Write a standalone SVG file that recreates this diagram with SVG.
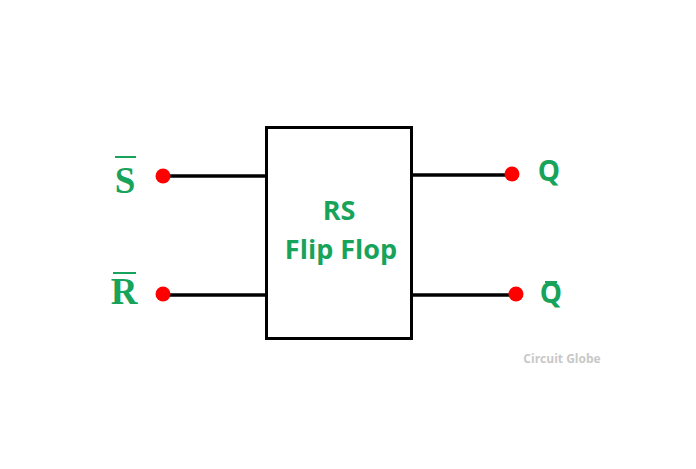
<svg xmlns="http://www.w3.org/2000/svg" width="696" height="469" viewBox="0 0 696 469">
<style>
.wire{stroke:#000;stroke-width:3.5;fill:none}
.dot{fill:#f00}
.lbl{fill:#17a35a;font-weight:bold}
.ser{font-family:"Liberation Serif","DejaVu Serif",serif;font-size:37px}
.sans{font-family:"Open Sans","Liberation Sans",sans-serif}
.bar{stroke:#17a35a;stroke-width:2}
</style>
<rect width="696" height="469" fill="#fff"/>
<g id="connectors">
<line class="wire" x1="163" y1="176" x2="267" y2="176"/>
<line class="wire" x1="163" y1="295" x2="267" y2="295"/>
<line class="wire" x1="411" y1="175" x2="512" y2="175"/>
<line class="wire" x1="411" y1="295" x2="516" y2="295"/>
</g>
<g id="flipflop">
<rect x="266.5" y="127.5" width="145" height="211" fill="#fff" stroke="#000" stroke-width="3"/>
<text class="lbl sans" x="339" y="220" font-size="27" text-anchor="middle">RS</text>
<text class="lbl sans" x="341" y="259" font-size="27" text-anchor="middle">Flip Flop</text>
</g>
<g id="S">
<circle class="dot" cx="163" cy="176" r="7.5"/>
<text class="lbl ser" x="125" y="193" text-anchor="middle">S</text>
<line class="bar" x1="115" y1="157" x2="136" y2="157"/>
</g>
<g id="R">
<circle class="dot" cx="163" cy="294" r="7.5"/>
<text class="lbl ser" x="124" y="304" text-anchor="middle">R</text>
<line class="bar" x1="113" y1="273" x2="136" y2="273"/>
</g>
<g id="Q">
<circle class="dot" cx="512" cy="174" r="7.5"/>
<text class="lbl sans" x="549" y="181" font-size="28" text-anchor="middle">Q</text>
</g>
<g id="Qbar">
<circle class="dot" cx="516" cy="294" r="7.5"/>
<text class="lbl sans" x="551" y="303" font-size="28" text-anchor="middle">Q</text>
<line class="bar" x1="545" y1="282" x2="557" y2="282"/>
</g>
<text x="562" y="363" font-family="Open Sans,Liberation Sans,sans-serif" font-size="12" font-weight="bold" fill="#c8c8c8" text-anchor="middle">Circuit Globe</text>
</svg>
